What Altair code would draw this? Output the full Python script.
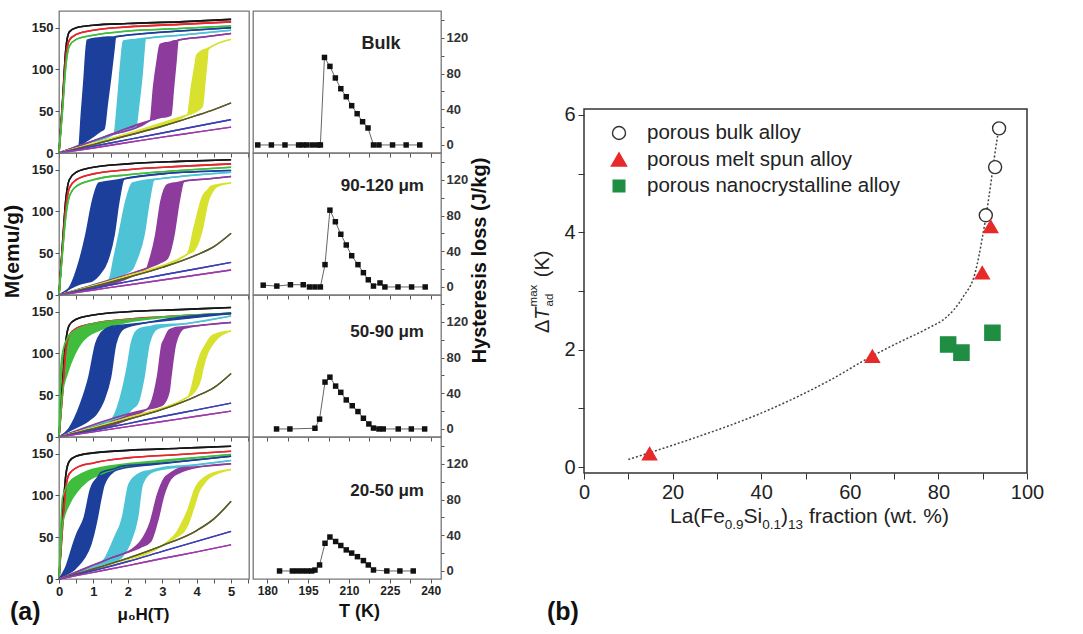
import altair as alt
import pandas as pd

FONT = "Liberation Sans"

# ---------------- (a) left column: M(H) isotherms ----------------
# field grids shared by the single-branch curves
SAT_H = [0, 0.1, 0.2, 0.3, 0.5, 1, 2, 3.5, 5]
LIN_H = [0, 1, 2, 3, 4, 4.5, 5]
LIN5_H = [0, 1, 2, 3, 4, 5]

# loops are lists of (H, M on field increase, M on field decrease)
BULK_BLACK = [0, 60, 125, 145, 150, 153, 155, 157, 160]
BULK_RED = [0, 55, 115, 135, 142, 147, 151, 154, 157]
BULK_GREEN = [0, 50, 105, 128, 136, 141, 146, 149, 152]
BULK_BLUE = [(0, 0, 0), (0.3, 4.5, 4.5), (0.58, 9, 9), (0.65, 10, 47), (0.72, 12, 84),
             (0.82, 15, 135), (1.0, 20, 137), (1.2, 26, 138), (1.31, 29, 138.5),
             (1.4, 58, 139), (1.5, 90, 139), (1.58, 118, 139), (1.65, 139, 139.5),
             (2.5, 143, 143), (3.5, 146, 146), (5, 150, 150)]
BULK_CYAN = [(0, 0, 0), (0.8, 11.5, 11.5), (1.6, 23, 23), (1.7, 24, 60), (1.8, 25.5, 110),
             (1.87, 27, 134), (2.0, 28, 135), (2.23, 31, 136), (2.3, 52, 136.5),
             (2.4, 88, 137), (2.52, 137, 137.5), (3.5, 141, 141), (5, 147, 147)]
BULK_PURPLE = [(0, 0, 0), (1.3, 19, 19), (2.65, 39, 39), (2.75, 40, 80), (2.85, 41.5, 110),
               (2.94, 42.5, 130), (3.1, 43.5, 132), (3.25, 45, 133), (3.32, 75, 134),
               (3.4, 110, 134.5), (3.46, 135, 135.2), (4.2, 139, 139), (5, 143, 143)]
BULK_YELLOW = [(0, 0, 0), (2.0, 23, 23), (3.73, 45.5, 45.5), (3.85, 47, 80), (3.95, 49, 105),
               (4.0, 50, 117), (4.1, 53, 121), (4.17, 57, 123), (4.24, 85, 124),
               (4.3, 110, 125), (4.33, 124, 125.5), (4.6, 131, 131), (5, 136, 136)]
BULK_OLIVE = [0, 10, 21, 32, 45, 52, 60]
BULK_BLUELINE = [0, 8, 16, 24, 32, 40]
BULK_PURPLELINE = [0, 6, 12.5, 19, 25, 31]

P90_BLACK = [0, 60, 115, 138, 147, 153, 157, 160, 162]
P90_RED = [0, 55, 105, 128, 138, 145, 150, 154, 157]
P90_GREEN = [0, 50, 95, 118, 130, 138, 144, 149, 153]
P90_BLUE = [(0, 0, 0), (0.29, 7, 8), (0.53, 12, 32), (0.78, 15, 72), (0.97, 17, 112),
            (1.16, 24, 134), (1.4, 40, 136), (1.6, 72, 137), (1.74, 112, 138),
            (1.89, 139, 139.2), (3, 145, 145), (5, 149, 149)]
P90_CYAN = [(0, 0, 0), (1.45, 18, 18), (1.6, 20, 45), (1.74, 22, 72), (1.94, 26, 112),
            (2.13, 31, 134), (2.23, 40, 135), (2.47, 72, 137), (2.62, 112, 138),
            (2.76, 138, 138.5), (3.8, 143, 143), (5, 147, 147)]
P90_PURPLE = [(0, 0, 0), (2.55, 32, 32), (2.62, 33, 40), (2.81, 36, 72), (2.96, 39, 112),
              (3.15, 44, 132), (3.34, 72, 134), (3.49, 112, 135), (3.63, 136, 136.5),
              (4.3, 139, 139), (5, 142, 142)]
P90_YELLOW = [(0, 0, 0), (2.0, 23, 23), (3.7, 48, 48), (3.78, 50, 54), (3.92, 53, 80),
              (3.97, 56, 88), (4.12, 72, 112), (4.17, 80, 118), (4.33, 112, 126),
              (4.41, 120, 130), (4.6, 130, 132), (5, 134, 134)]
P90_OLIVE = [0, 10, 21, 33, 48, 58, 74]
P90_BLUELINE = [0, 8, 16, 24, 31.5, 39]
P90_PURPLELINE = [0, 6, 12, 18, 24, 30]

P50_BLACK = [0, 60, 115, 134, 141, 146, 150, 152.5, 155]
P50_RED = [0, 50, 105, 122, 130, 136, 141, 145, 148]
P50_GREEN = [(0, 0, 0), (0.05, 25, 80), (0.1, 52, 100), (0.24, 76, 118), (0.44, 98, 127),
             (0.63, 112, 131), (0.82, 120, 134), (1.3, 130, 138), (1.8, 136, 140),
             (2.76, 142, 143), (5, 148, 148)]
P50_BLUE = [(0, 0, 0), (0.29, 7, 10), (0.63, 14, 40), (0.87, 20, 72), (1.07, 27, 112),
            (1.21, 36, 124), (1.31, 45, 128), (1.5, 72, 132), (1.65, 112, 133),
            (1.89, 130, 134), (2.57, 137, 137), (5, 148, 148)]
P50_CYAN = [(0, 0, 0), (1.5, 20, 20), (1.79, 24, 48), (1.99, 28, 85), (2.1, 33, 112),
            (2.28, 40, 128), (2.47, 72, 131), (2.62, 112, 132), (2.86, 130, 134),
            (3.73, 136, 136), (5, 145, 145)]
P50_PURPLE = [(0, 0, 0), (2.55, 33, 33), (2.67, 34, 40), (2.86, 36, 72), (3.0, 38, 112),
              (3.05, 40, 116), (3.2, 55, 128), (3.25, 72, 129), (3.39, 112, 131),
              (3.63, 130, 132), (4.2, 134, 134), (5, 137, 137)]
P50_YELLOW = [(0, 0, 0), (2.0, 23, 23), (3.75, 48, 48), (3.83, 50, 56), (3.97, 56, 80),
              (4.12, 70, 100), (4.17, 80, 104), (4.31, 100, 114), (4.41, 108, 120),
              (4.6, 118, 124), (5, 127, 127)]
P50_OLIVE = [0, 10, 21, 33, 49, 59, 76]
P50_BLUELINE = [0, 8, 16, 24.5, 32.5, 40.5]
P50_PURPLELINE = [0, 6.2, 12.4, 18.6, 24.8, 31]

P20_BLACK = [0, 70, 125, 141, 147, 151, 154, 156.5, 159]
P20_RED = [0, 60, 110, 126, 133, 139, 145, 149, 153]
P20_GREEN = [(0, 0, 0), (0.05, 35, 60), (0.1, 65, 97), (0.29, 89, 115), (0.53, 105, 123),
             (0.82, 117, 129), (1.3, 127, 134), (1.8, 133, 137), (2.76, 139, 141),
             (5, 149, 149)]
P20_BLUE = [(0, 0, 0), (0.19, 5, 13), (0.44, 11, 45), (0.53, 15, 55), (0.73, 25, 73),
            (0.92, 41, 108), (0.97, 48, 113), (1.11, 73, 121), (1.21, 95, 127),
            (1.31, 113, 129), (1.6, 129, 132), (1.8, 132, 135), (2.76, 137, 138),
            (5, 147, 147)]
P20_CYAN = [(0, 0, 0), (1.0, 14, 14), (1.31, 18, 23), (1.65, 22, 53), (1.79, 25, 66),
            (1.84, 27, 73), (2.03, 40, 113), (2.08, 45, 117), (2.28, 73, 125),
            (2.42, 113, 128), (2.66, 127, 130), (2.96, 131, 133), (3.73, 135, 136),
            (5, 142, 142)]
P20_PURPLE = [(0, 0, 0), (1.5, 25, 25), (2.2, 35, 38), (2.37, 38, 45), (2.66, 45, 69),
              (2.86, 69, 101), (3.05, 101, 120), (3.25, 120, 127), (3.54, 128, 133),
              (3.92, 133, 134), (5, 138, 138)]
P20_YELLOW = [(0, 0, 0), (1.5, 18, 18), (3.0, 40, 40), (3.44, 51, 57), (3.63, 57, 72),
              (3.73, 64, 81), (3.88, 81, 100), (3.92, 86, 105), (4.07, 105, 116),
              (4.21, 114, 121), (4.36, 121, 125), (5, 131, 131)]
P20_OLIVE = [0, 12, 25, 40, 58, 72, 93]
P20_BLUELINE = [0, 10, 21, 33, 45, 57]
P20_PURPLELINE = [0, 8, 16, 24.5, 32.5, 41]

# ---------------- (a) right column: hysteresis loss vs T ----------------
BULK_T = [176.5, 181.5, 186.5, 191.5, 193, 194.5, 196.5, 198.5, 199.5, 201, 203, 205,
          207, 209, 211, 213, 215, 217, 219, 221, 226, 231, 236]
BULK_LOSS = [0, 0, 0, 0, 0, 0, 0, 0, 0, 98, 88, 75, 63, 54, 44, 35, 26, 19, 0, 0, 0, 0, 0]
P90_T = [178.5, 183.5, 188.5, 193.2, 195.5, 197.5, 199.5, 201.2, 203, 205, 207, 209,
         211, 213.3, 215.3, 217.1, 219, 221.4, 223.2, 228, 233, 238]
P90_LOSS = [2, 1, 2.5, 2.5, 0, 0, 0, 25, 86, 73, 59, 47, 35, 25, 16, 8, 1, 4.5, 0, 0, 0, 0]
P50_T = [183.4, 188.3, 197.5, 199.2, 201.2, 203, 205.1, 207, 209, 211.2, 213.3, 215.3,
         217.3, 219, 221, 222.6, 228.1, 232.9, 237.8]
P50_LOSS = [0, 0, 0.8, 11, 52.5, 58, 48, 41, 32.5, 26, 19.5, 12, 5.6, 1, 0, 0, 0, 0, 0]
P20_T = [184.5, 189.2, 191, 192.9, 194.7, 196.3, 197.5, 199.2, 201.2, 203, 205.1, 207,
         209, 211, 213.1, 215.3, 217.1, 219, 223.9, 228.7, 233.6]
P20_LOSS = [0, 0, 0, 0, 0, 0, 1, 6.7, 31, 38, 33, 28.5, 23.6, 20, 16, 11.6, 6.7, 1.1, 0, 0, 0]

PANEL_LABELS = ["Bulk", "90-120 μm", "50-90 μm", "20-50 μm"]

# ---------------- (b) adiabatic temperature change ----------------
SERIES = ["porous bulk alloy", "porous melt spun alloy", "porous nanocrystalline alloy"]
BULK_X = [90.7, 92.8, 93.7]
BULK_DT = [4.29, 5.11, 5.77]
MELT_X = [14.8, 65.1, 89.9, 91.8]
MELT_DT = [0.23, 1.89, 3.31, 4.10]
NANO_X = [82.2, 85.2, 92.2]
NANO_DT = [2.09, 1.95, 2.29]
FIT_X = [10, 15, 25, 40, 55, 65, 70.4, 78, 81.6, 85.4, 88.4, 89.9, 90.9, 91.9, 92.6, 93.4]
FIT_DT = [0.13, 0.25, 0.5, 0.92, 1.46, 1.89, 2.1, 2.38, 2.54, 2.88, 3.34, 3.9, 4.35,
          4.87, 5.26, 5.66]

# ---------------- styling ----------------
CURVES = ["black", "red", "green", "blue", "cyan", "purple", "yellow", "olive",
          "blueline", "purpleline"]
CURVE_COLORS = ["#161616", "#e3272c", "#41bd3d", "#1d3f9c", "#4ec3d5", "#8d3b9d",
                "#d9e12f", "#5c5b29", "#3b3fb4", "#9c3ba8"]
CURVE_WIDTHS = [1.6, 1.4, 1.4, 1.1, 1.1, 1.1, 1.1, 1.5, 1.3, 1.3]
RED = "#e62a2a"
GREEN = "#1f8d42"
SHAPES = ["circle", "triangle-up", "square"]
FILLS = ["white", RED, GREEN]
STROKES = ["#333", RED, GREEN]
SIZES = [170, 230, 135]


def same(hs, ms):
    return [(h, m, m) for h, m in zip(hs, ms)]


def as_loop(v, hs):
    # a plain list of M values lies on a shared field grid; a loop is already triples
    return v if isinstance(v[0], tuple) else same(hs, v)


ISOTHERMS = [
    [BULK_BLACK, BULK_RED, BULK_GREEN, BULK_BLUE, BULK_CYAN, BULK_PURPLE, BULK_YELLOW,
     BULK_OLIVE, BULK_BLUELINE, BULK_PURPLELINE],
    [P90_BLACK, P90_RED, P90_GREEN, P90_BLUE, P90_CYAN, P90_PURPLE, P90_YELLOW,
     P90_OLIVE, P90_BLUELINE, P90_PURPLELINE],
    [P50_BLACK, P50_RED, P50_GREEN, P50_BLUE, P50_CYAN, P50_PURPLE, P50_YELLOW,
     P50_OLIVE, P50_BLUELINE, P50_PURPLELINE],
    [P20_BLACK, P20_RED, P20_GREEN, P20_BLUE, P20_CYAN, P20_PURPLE, P20_YELLOW,
     P20_OLIVE, P20_BLUELINE, P20_PURPLELINE],
]
GRIDS = [SAT_H, SAT_H, SAT_H, None, None, None, None, LIN_H, LIN5_H, LIN5_H]
LOSS = [(BULK_T, BULK_LOSS), (P90_T, P90_LOSS), (P50_T, P50_LOSS), (P20_T, P20_LOSS)]

ONE = pd.DataFrame({"k": [0]})
PANEL_W_M, PANEL_W_T, PANEL_H = 190, 188, 142


def m_panel(i):
    rows = []
    for name, grid, values in zip(CURVES, GRIDS, ISOTHERMS[i]):
        for h, lo, hi in as_loop(values, grid):
            rows.append({"curve": name, "H": h, "lo": lo, "hi": hi})
    df = pd.DataFrame(rows)
    last = i == 3

    x_kw = dict(values=[0.5 * k for k in range(12)], tickSize=4, grid=False, domain=False,
                tickColor="#555", labelFlush=False)
    if last:
        x_kw.update(labelExpr="datum.value % 1 == 0 ? format(datum.value, 'd') : ''",
                    title="μ₀H(T)", titleFontSize=17, titleFontWeight="bold", titleX=84,
                    titlePadding=8, labelFontSize=13, labelFontWeight="bold",
                    labelPadding=2)
    else:
        x_kw.update(labels=False, title="")
    y_kw = dict(values=[25 * k for k in range(7)],
                labelExpr="datum.value % 50 == 0 ? datum.label : ''",
                labelFontSize=13, labelFontWeight="bold", tickSize=4, labelPadding=2,
                grid=False, domain=False, tickColor="#555", title="")
    if i == 1:
        y_kw.update(title="M(emu/g)", titleFontSize=21, titleFontWeight="bold",
                    titleY=98, titlePadding=9)

    x = alt.X("H:Q", scale=alt.Scale(domain=[0, 5.52], nice=False, zero=False),
              axis=alt.Axis(**x_kw))
    yscale = alt.Scale(domain=[0, 170], nice=False, zero=False)
    color = alt.Color("curve:N", scale=alt.Scale(domain=CURVES, range=CURVE_COLORS),
                      legend=None)

    area = alt.Chart(df).mark_area(interpolate="monotone", opacity=1).encode(
        x=x, y=alt.Y("lo:Q", stack=None, scale=yscale, axis=alt.Axis(**y_kw)),
        y2="hi:Q", color=color)
    lines = alt.Chart(df).transform_fold(["lo", "hi"], as_=["branch", "M"]).mark_line(
        interpolate="monotone").encode(
        x=x, y=alt.Y("M:Q", scale=yscale), color=color, detail="branch:N",
        size=alt.Size("curve:N", scale=alt.Scale(domain=CURVES, range=CURVE_WIDTHS),
                      legend=None))
    layers = [area, lines]
    if last:
        layers.append(alt.Chart(ONE).mark_text(
            text="(a)", fontSize=25, fontWeight="bold", align="left", color="#111",
            baseline="alphabetic").encode(x=alt.value(-49), y=alt.value(183)))
    return alt.layer(*layers).properties(width=PANEL_W_M, height=PANEL_H)


def t_panel(i):
    t_vals, loss_vals = LOSS[i]
    df = pd.DataFrame({"T": t_vals, "loss": loss_vals})
    last = i == 3
    x_kw = dict(values=[180 + 7.5 * k for k in range(9)], tickSize=4, grid=False,
                domain=False, tickColor="#555", labelFlush=False)
    if last:
        x_kw.update(labelExpr="datum.value % 15 == 0 ? datum.label : ''", title="T (K)",
                    titleFontSize=18, titleFontWeight="bold", titlePadding=6, titleX=106,
                    labelFontSize=12, labelFontWeight="bold", labelPadding=2)
    else:
        x_kw.update(labels=False, title="")
    y_kw = dict(orient="right", values=[20 * k for k in range(8)],
                labelExpr="datum.value % 40 == 0 ? datum.label : ''",
                labelFontSize=13, labelFontWeight="bold", labelColor="#333",
                tickSize=3, labelPadding=2, grid=False, domain=False, tickColor="#555",
                title="")
    if i == 1:
        y_kw.update(title="Hysteresis  loss (J/kg)", titleFontSize=20,
                    titleFontWeight="bold", titleAngle=270, titleY=107, titlePadding=22)

    x = alt.X("T:Q", scale=alt.Scale(domain=[174.75, 243.8], nice=False, zero=False),
              axis=alt.Axis(**x_kw))
    y = alt.Y("loss:Q", scale=alt.Scale(domain=[-9, 150], nice=False, zero=False),
              axis=alt.Axis(**y_kw))
    line = alt.Chart(df).mark_line(color="#666", strokeWidth=1).encode(x=x, y=y)
    pts = alt.Chart(df).mark_square(size=30, color="#111", opacity=1).encode(x=x, y=y)
    if i == 0:
        label = alt.Chart(ONE).mark_text(
            text=PANEL_LABELS[i], fontSize=18, fontWeight="bold", align="center",
            baseline="middle", color="#222").encode(x=alt.value(128), y=alt.value(33))
    else:
        label_y = [33, 33, 37, 54][i]
        label = alt.Chart(ONE).mark_text(
            text=PANEL_LABELS[i], fontSize=17, fontWeight="bold", align="right",
            baseline="middle", color="#222").encode(x=alt.value(171),
                                                    y=alt.value(label_y))
    return alt.layer(line, pts, label).properties(width=PANEL_W_T, height=PANEL_H)


panels = []
for i in range(4):
    panels += [m_panel(i), t_panel(i)]
left = alt.concat(*panels, columns=2, spacing={"row": 0, "column": 4}, bounds="flush")

# ---------------- panel (b) ----------------
pts_b = pd.DataFrame({
    "x": BULK_X + MELT_X + NANO_X,
    "dt": BULK_DT + MELT_DT + NANO_DT,
    "series": [SERIES[0]] * len(BULK_X) + [SERIES[1]] * len(MELT_X)
              + [SERIES[2]] * len(NANO_X),
})
fit_b = pd.DataFrame({"x": FIT_X, "dt": FIT_DT})

bx = alt.X("x:Q", scale=alt.Scale(domain=[0, 100], nice=False, zero=False),
           axis=alt.Axis(values=list(range(0, 101, 10)),
                         labelExpr="datum.value % 20 == 0 ? datum.label : ''",
                         title="", labelFontSize=20, labelColor="#222", tickSize=6,
                         tickColor="#333", labelPadding=3, grid=False, domain=False,
                         labelFlush=False))
by = alt.Y("dt:Q", scale=alt.Scale(domain=[-0.1, 6.1], nice=False, zero=False),
           axis=alt.Axis(values=list(range(0, 7)),
                         labelExpr="datum.value % 2 == 0 ? datum.label : ''",
                         title="", labelFontSize=20, labelColor="#222", tickSize=6,
                         tickColor="#333", labelPadding=3, grid=False, domain=False,
                         labelFlush=False))

fit_line = alt.Chart(fit_b).mark_line(interpolate="monotone", strokeDash=[2, 2],
                                      strokeWidth=1.5, color="#444").encode(x=bx, y=by)
markers = alt.Chart(pts_b).mark_point(filled=True, opacity=1, strokeWidth=1.4).encode(
    x=bx, y=by,
    shape=alt.Shape("series:N", scale=alt.Scale(domain=SERIES, range=SHAPES), legend=None),
    fill=alt.Fill("series:N", scale=alt.Scale(domain=SERIES, range=FILLS), legend=None),
    stroke=alt.Stroke("series:N", scale=alt.Scale(domain=SERIES, range=STROKES),
                      legend=None),
    size=alt.Size("series:N", scale=alt.Scale(domain=SERIES, range=SIZES), legend=None),
)

# key in the upper-left corner of the plot
key = []
for k, name in enumerate(SERIES):
    ky = 24 + 26.5 * k
    key.append(alt.Chart(ONE).mark_point(
        shape=SHAPES[k], fill=FILLS[k], stroke=STROKES[k], filled=True, opacity=1,
        strokeWidth=1.4, size=SIZES[k]).encode(x=alt.value(35), y=alt.value(ky)))
    key.append(alt.Chart(ONE).mark_text(
        text=name, fontSize=20.5, align="left", baseline="middle", color="#222").encode(
        x=alt.value(63), y=alt.value(ky)))

# Arial advance widths (per em) for the characters used in the composed axis titles
ADV = {"L": .556, "a": .556, "(": .333, ")": .333, "F": .611, "e": .556, "0": .556,
       ".": .278, "9": .556, "S": .667, "i": .222, "1": .556, "3": .556, " ": .278,
       "f": .278, "r": .333, "c": .5, "t": .278, "o": .556, "n": .556, "w": .722,
       "%": .889, "K": .667, "Δ": .668, "T": .611, "m": .833, "x": .5, "d": .556}


def width(s, size):
    return sum(ADV[c] for c in s) * size


def text_piece(text, x, y, size, angle=0, style="normal"):
    return alt.Chart(ONE).mark_text(
        text=text, fontSize=size, fontStyle=style, align="left", baseline="alphabetic",
        angle=angle, color="#222").encode(x=alt.value(x), y=alt.value(y))


# x title: La(Fe0.9Si0.1)13 fraction (wt. %)
x_parts = [("La(Fe", 21, 0), ("0.9", 13.5, 6), ("Si", 21, 0), ("0.1", 13.5, 6),
           (")", 21, 0), ("13", 13.5, 6), ("fraction (wt. %)", 21, 0)]
x_title, cx = [], 86.0
for txt, sz, dy in x_parts:
    if txt.startswith("fraction"):
        cx += width(" ", sz)
    x_title.append(text_piece(txt, cx, 414 + dy, sz))
    cx += width(txt, sz)

# y title: ΔT_ad^max (K), reading upwards
y0 = 224.0
y_title = [text_piece("Δ", -35, y0, 20, 270),
           text_piece("T", -35, y0 - width("Δ", 20), 20, 270, "italic")]
y_sup = y0 - width("Δ", 20) - width("T", 20) - 1
y_title += [text_piece("max", -47, y_sup, 11.5, 270), text_piece("ad", -31, y_sup, 11.5, 270),
            text_piece("(K)", -35, y_sup - width("max", 11.5) - width(" ", 20) - 2, 20, 270)]

tag_b = alt.Chart(ONE).mark_text(text="(b)", fontSize=25, fontWeight="bold", align="left",
                                 baseline="alphabetic", color="#111").encode(
    x=alt.value(-37), y=alt.value(511))

panel_b = alt.layer(fit_line, markers, *key, *x_title, *y_title, tag_b).properties(
    width=443, height=364, view=alt.ViewBackground(stroke="#333", strokeWidth=1.5))

spacer = alt.Chart(ONE).mark_point(opacity=0).encode(
    x=alt.value(5), y=alt.value(50)).properties(
    width=10, height=98, view=alt.ViewBackground(stroke="transparent"))
right = alt.vconcat(spacer, panel_b, spacing=0, bounds="flush")

chart = alt.hconcat(left, right, spacing=36).resolve_scale(
    size="independent", shape="independent", fill="independent",
    stroke="independent", color="independent").properties(
    padding={"left": 0, "top": 10, "right": 0, "bottom": 0}
).configure(font=FONT).configure_view(stroke="#777", strokeWidth=1.3).configure_axis(
    labelFont=FONT, titleFont=FONT, labelColor="#222", titleColor="#111")

chart.save("out.html", embed_options={"renderer": "svg", "actions": False})
